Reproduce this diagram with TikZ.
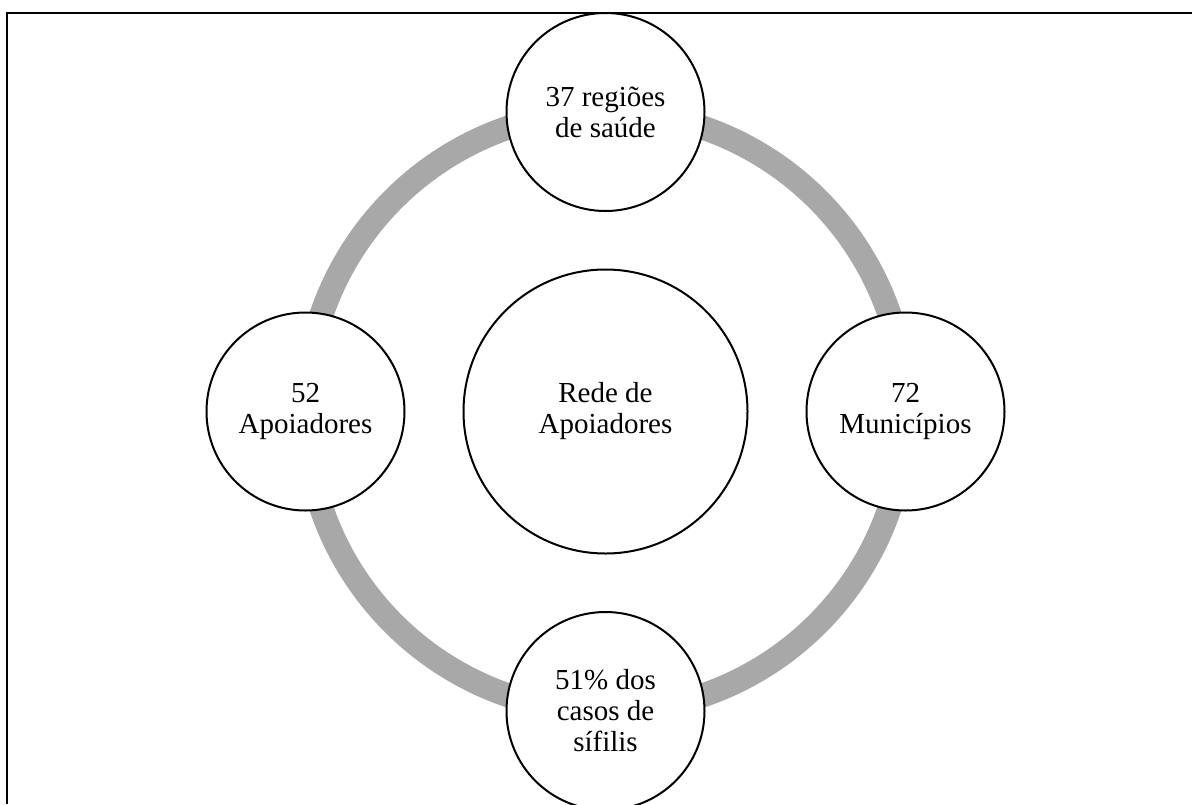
\documentclass[tikz,border=0pt]{standalone}
\usepackage{fontspec}
\setmainfont{Liberation Serif}
\usepackage{tikz}

\definecolor{ringgray}{RGB}{168,168,168}

\tikzset{
  bubble/.style={circle, draw=black, line width=2pt, fill=white, align=center,
    inner sep=0pt, font=\fontsize{29}{31}\selectfont},
  hubbubble/.style={bubble, minimum size=284pt},
  petal/.style={bubble, minimum size=198pt},
  ring/.style={draw=ringgray, line width=24pt},
  frameline/.style={draw=black, line width=2.5pt}
}

\begin{document}
\begin{tikzpicture}[x=1pt,y=-1pt]

 \useasboundingbox (0,0) rectangle (1192,804);

 % page frame, only top and left edges are visible
 \coordinate (frameTL) at (7,13);
 \coordinate (frameTR) at (1192,13);
 \coordinate (frameBL) at (7,804);
 \draw[frameline] (frameTR) -- (frameTL) -- (frameBL);

 % grey ring behind the outer circles
 \coordinate (ringc) at (605.5,411.5);
 \draw[ring] (ringc) circle[radius=300];

 \node[hubbubble] (hub) at (ringc) {Rede de\\Apoiadores};

 \node[petal] (regioes) at (605.5,112) {37 regiões\\de saúde};
 \node[petal] (apoiadores) at (305.5,411.5) {52\\Apoiadores};
 \node[petal] (municipios) at (905.5,411.5) {72\\Municípios};
 \node[petal] (sifilis) at (605.5,711) {51\% dos\\casos de\\sífilis};

\end{tikzpicture}
\end{document}
